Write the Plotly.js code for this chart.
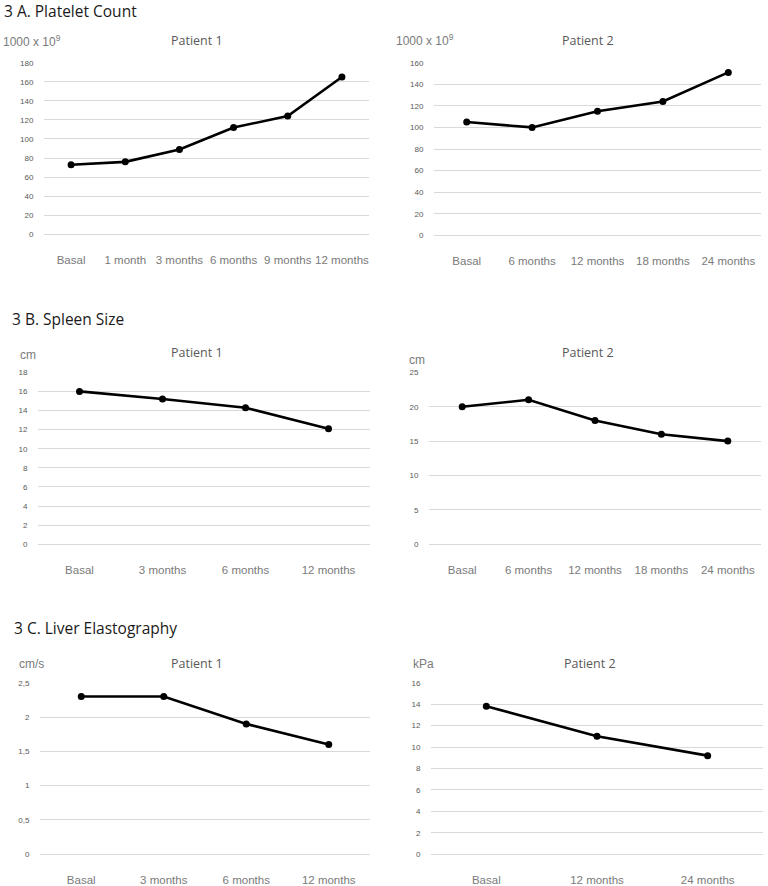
<!DOCTYPE html>
<html>
<head>
<meta charset="utf-8">
<script src="https://cdn.plot.ly/plotly-3.0.1.min.js"></script>
<style>html,body{margin:0;padding:0;background:#fff}#chart{width:768px;height:886px}</style>
</head>
<body>
<div id="chart"></div>
<script>
// Data
const catA1 = ['Basal', '1 month', '3 months', '6 months', '9 months', '12 months'];
const valA1 = [73, 76, 89, 112, 124, 165];
const catA2 = ['Basal', '6 months', '12 months', '18 months', '24 months'];
const valA2 = [105, 100, 115, 124, 151];
const catB1 = ['Basal', '3 months', '6 months', '12 months'];
const valB1 = [16, 15.2, 14.3, 12.1];
const catB2 = ['Basal', '6 months', '12 months', '18 months', '24 months'];
const valB2 = [20, 21, 18, 16, 15];
const catC1 = ['Basal', '3 months', '6 months', '12 months'];
const valC1 = [2.3, 2.3, 1.9, 1.6];
const catC2 = ['Basal', '12 months', '24 months'];
const valC2 = [13.8, 11, 9.2];

const sectionTitles = ['3 A. Platelet Count', '3 B. Spleen Size', '3 C. Liver Elastography'];
const patientTitles = ['Patient 1', 'Patient 2'];
const units = ['1000 x 10<sup>9</sup>', '1000 x 10<sup>9</sup>', 'cm', 'cm', 'cm/s', 'kPa'];

const W = 768, H = 886;
const px = v => v / W;
const py = v => 1 - v / H;
const EXTRA = 4; // px of padding below the zero gridline so it is drawn

const panels = [
  {cat: catA1, val: valA1, x: [44, 369], y: [62.7, 234.3], ymax: 180, dtick: 20},
  {cat: catA2, val: valA2, x: [434, 761], y: [62.7, 235.3], ymax: 160, dtick: 20},
  {cat: catB1, val: valB1, x: [38, 370], y: [372.3, 544.3], ymax: 18, dtick: 2},
  {cat: catB2, val: valB2, x: [429, 761], y: [372.3, 544.3], ymax: 25, dtick: 5},
  {cat: catC1, val: valC1, x: [40, 370], y: [682.7, 854.3], ymax: 2.5, dtick: 0.5},
  {cat: catC2, val: valC2, x: [431, 763], y: [682.7, 854.3], ymax: 16, dtick: 2}
];

const FONT_TICK = '"Liberation Sans", Arial, sans-serif';
const FONT_TITLE = '"Open Sans", Lato, sans-serif';

const data = [];
const layout = {
  width: W, height: H, autosize: false,
  margin: {l: 0, r: 0, t: 0, b: 0},
  paper_bgcolor: '#ffffff', plot_bgcolor: '#ffffff',
  showlegend: false,
  separators: ',.',
  font: {family: FONT_TICK, color: '#595959'},
  annotations: []
};

panels.forEach((p, i) => {
  const n = i + 1;
  const xa = n === 1 ? 'x' : 'x' + n;
  const ya = n === 1 ? 'y' : 'y' + n;
  data.push({
    type: 'scatter', mode: 'lines+markers',
    x: p.cat, y: p.val, xaxis: xa, yaxis: ya,
    line: {color: '#000000', width: 2.6},
    marker: {color: '#000000', size: 7},
    cliponaxis: false, hoverinfo: 'skip'
  });
  const xk = n === 1 ? 'xaxis' : 'xaxis' + n;
  const yk = n === 1 ? 'yaxis' : 'yaxis' + n;
  const h = p.y[1] - p.y[0];
  layout[xk] = {
    domain: [px(p.x[0]), px(p.x[1])],
    anchor: ya, type: 'category',
    range: [-0.5, p.cat.length - 0.5],
    showgrid: false, zeroline: false, showline: false,
    ticks: 'outside', ticklen: 15 - EXTRA, tickcolor: 'rgba(0,0,0,0)',
    tickfont: {family: FONT_TICK, size: 11.5, color: '#7a7a7a'},
    fixedrange: true
  };
  layout[yk] = {
    domain: [py(p.y[1] + EXTRA), py(p.y[0])],
    anchor: xa, range: [-p.ymax * EXTRA / h, p.ymax], dtick: p.dtick, tick0: 0,
    showgrid: true, gridcolor: '#d9d9d9', gridwidth: 1,
    zeroline: true, zerolinecolor: '#d9d9d9', zerolinewidth: 1,
    showline: false,
    ticks: 'outside', ticklen: 8, tickcolor: 'rgba(0,0,0,0)',
    tickfont: {family: FONT_TICK, size: 8, color: '#595959'},
    fixedrange: true
  };
});

// Section titles
const secPos = [[2, 11], [10, 319], [12, 628]];
sectionTitles.forEach((t, i) => {
  layout.annotations.push({
    text: t, xref: 'paper', yref: 'paper', x: px(secPos[i][0]), y: py(secPos[i][1]),
    xanchor: 'left', yanchor: 'middle', showarrow: false,
    font: {family: FONT_TITLE, size: 15.5, color: '#1a1a1a'}
  });
});

// Patient titles
const patPos = [[197, 41, 0], [588, 41, 1], [197, 352, 0], [588, 352, 1], [197, 663, 0], [590, 663, 1]];
patPos.forEach(p => {
  layout.annotations.push({
    text: patientTitles[p[2]], xref: 'paper', yref: 'paper', x: px(p[0]), y: py(p[1]),
    xanchor: 'center', yanchor: 'middle', showarrow: false,
    font: {family: FONT_TITLE, size: 12.5, color: '#595959'}
  });
});

// Unit labels
const unitPos = [[1, 41], [394, 40], [18, 355], [407, 360], [17, 664], [411, 664]];
units.forEach((u, i) => {
  layout.annotations.push({
    text: u, xref: 'paper', yref: 'paper', x: px(unitPos[i][0]), y: py(unitPos[i][1]),
    xanchor: 'left', yanchor: 'middle', showarrow: false,
    font: {family: FONT_TICK, size: 12, color: '#7a7a7a'}
  });
});

Plotly.newPlot('chart', data, layout, {displayModeBar: false, staticPlot: true});
</script>
</body>
</html>
